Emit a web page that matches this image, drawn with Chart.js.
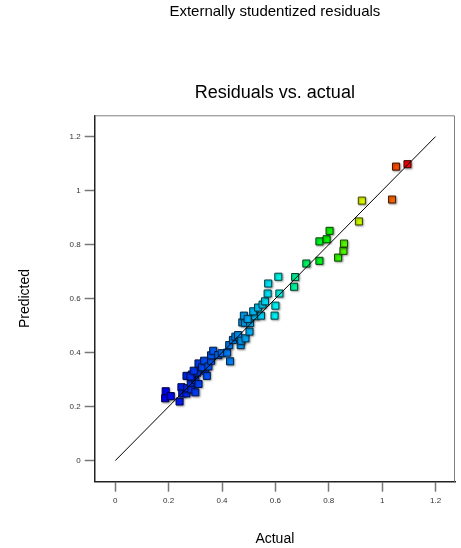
<!DOCTYPE html>
<html>
<head>
<meta charset="utf-8">
<script src="https://cdn.jsdelivr.net/npm/chart.js@4/dist/chart.umd.min.js"></script>
<style>
  html, body { margin: 0; padding: 0; background: #fff; }
  #wrap { width: 461px; height: 548px; }
</style>
</head>
<body>
<div id="wrap"><canvas id="myCanvas"></canvas></div>
<script>
// actual vs predicted values
const actual = [0.189, 0.187, 0.208, 0.241, 0.248, 0.251, 0.267, 0.270, 0.285, 0.300, 0.283, 0.300, 0.312, 0.267, 0.287, 0.282, 0.308, 0.294, 0.337, 0.343, 0.312, 0.325, 0.333, 0.349, 0.359, 0.359, 0.367, 0.386, 0.399, 0.419, 0.430, 0.427, 0.441, 0.450, 0.460, 0.470, 0.472, 0.488, 0.503, 0.476, 0.486, 0.505, 0.482, 0.496, 0.524, 0.546, 0.517, 0.535, 0.552, 0.561, 0.597, 0.600, 0.571, 0.615, 0.573, 0.611, 0.670, 0.674, 0.716, 0.765, 0.835, 0.855, 0.857, 0.765, 0.792, 0.803, 0.913, 0.924, 1.037, 1.052, 1.095];
const predicted = [0.257, 0.231, 0.239, 0.219, 0.272, 0.249, 0.249, 0.268, 0.264, 0.253, 0.289, 0.299, 0.284, 0.314, 0.319, 0.312, 0.326, 0.333, 0.333, 0.314, 0.360, 0.346, 0.370, 0.349, 0.370, 0.390, 0.407, 0.391, 0.398, 0.400, 0.368, 0.428, 0.447, 0.459, 0.465, 0.428, 0.444, 0.453, 0.478, 0.512, 0.511, 0.510, 0.537, 0.525, 0.535, 0.537, 0.553, 0.567, 0.578, 0.590, 0.537, 0.574, 0.619, 0.619, 0.656, 0.681, 0.644, 0.680, 0.730, 0.740, 0.752, 0.777, 0.804, 0.812, 0.820, 0.851, 0.886, 0.963, 0.967, 1.089, 1.098];

// 45 degree reference line
const lineActual = [0, 1.2];
const linePredicted = [0, 1.2];

const xTickValues = [0, 0.2, 0.4, 0.6, 0.8, 1, 1.2];
const yTickValues = [0, 0.2, 0.4, 0.6, 0.8, 1, 1.2];

// colour ramp (actual value -> hue), blue to red
const hueStops = [[0.19, 240], [0.45, 206], [0.6, 180], [0.72, 143], [0.79, 120], [0.85, 103], [0.92, 68], [1.045, 21], [1.095, 0]];

function hueFor(v) {
    if (v <= hueStops[0][0]) return hueStops[0][1];
    for (let i = 1; i < hueStops.length; i++) {
        const [x1, h1] = hueStops[i];
        const [x0, h0] = hueStops[i - 1];
        if (v <= x1) return h0 + (h1 - h0) * (v - x0) / (x1 - x0);
    }
    return hueStops[hueStops.length - 1][1];
}

const points = actual.map((a, i) => ({ x: a, y: predicted[i] }));
const fills = actual.map(a => `hsl(${hueFor(a)}, 100%, 48%)`);
const borders = actual.map(a => `hsl(${hueFor(a)}, 100%, 14%)`);

const boxPlugin = {
    id: "box",
    afterDraw(chart) {
        const { ctx, chartArea: a } = chart;
        ctx.save();
        ctx.strokeStyle = "#808080";
        ctx.lineWidth = 1;
        ctx.beginPath();
        ctx.moveTo(a.left, a.top + 0.5);
        ctx.lineTo(a.right - 0.5, a.top + 0.5);
        ctx.lineTo(a.right - 0.5, a.bottom);
        ctx.stroke();
        ctx.restore();
    },
};

const shadowPlugin = {
    id: "shadow",
    beforeDatasetDraw(chart, args) {
        if (args.index !== 1) return;
        const ctx = chart.ctx;
        ctx.save();
        ctx.shadowColor = "rgba(0,0,0,0.35)";
        ctx.shadowBlur = 2;
        ctx.shadowOffsetX = 1;
        ctx.shadowOffsetY = 1;
    },
    afterDatasetDraw(chart, args) {
        if (args.index !== 1) return;
        chart.ctx.restore();
    },
};

const tickFont = { family: "Arial, 'Liberation Sans', sans-serif", size: 8 };
const fixTicks = vals => scale => { scale.ticks = vals.map(v => ({ value: v })); };
const fmt = v => String(Math.round(v * 10) / 10);

new Chart(document.getElementById("myCanvas"), {
    type: "scatter",
    data: {
        datasets: [
            {
                type: "line",
                data: lineActual.map((a, i) => ({ x: a, y: linePredicted[i] })),
                borderColor: "#000",
                borderWidth: 1,
                pointRadius: 0,
                fill: false,
            },
            {
                data: points,
                pointStyle: "rect",
                pointRadius: 5,
                pointBorderWidth: 1,
                pointBackgroundColor: fills,
                pointBorderColor: borders,
            },
        ],
    },
    options: {
        responsive: true,
        maintainAspectRatio: false,
        animation: false,
        layout: { padding: { left: 0, right: 0.7, top: 0, bottom: 0 } },
        plugins: {
            legend: false,
            tooltip: false,
            title: {
                display: true,
                fullSize: false,
                text: "Externally studentized residuals",
                color: "#000",
                font: { family: "Arial, 'Liberation Sans', sans-serif", size: 15, weight: "normal", lineHeight: 1.2 },
                padding: { top: 3, bottom: 0 },
            },
            subtitle: {
                display: true,
                fullSize: false,
                text: "Residuals vs. actual",
                color: "#000",
                font: { family: "Arial, 'Liberation Sans', sans-serif", size: 18, weight: "normal", lineHeight: 1.2 },
                padding: { top: 61.2, bottom: 11.5 },
            },
        },
        scales: {
            x: {
                type: "linear",
                min: -0.077,
                max: 1.273,
                afterBuildTicks: fixTicks(xTickValues),
                afterFit: s => { s.height = 66.3; },
                grid: { drawOnChartArea: false, tickLength: 10, tickColor: "#777", tickWidth: 1.5 },
                border: { color: "#222", width: 1.5 },
                ticks: { font: tickFont, color: "#333", padding: 4, maxRotation: 0, callback: fmt },
                title: {
                    display: true,
                    text: "Actual",
                    color: "#000",
                    font: { family: "Arial, 'Liberation Sans', sans-serif", size: 14, lineHeight: 1.2 },
                    padding: { top: 0, bottom: 0 },
                },
            },
            y: {
                type: "linear",
                min: -0.078,
                max: 1.279,
                afterBuildTicks: fixTicks(yTickValues),
                afterFit: s => { s.width = 94.7; },
                grid: { drawOnChartArea: false, tickLength: 10, tickColor: "#777", tickWidth: 1.5 },
                border: { color: "#222", width: 1.5 },
                ticks: { font: tickFont, color: "#333", padding: 4, callback: fmt },
                title: {
                    display: true,
                    text: "Predicted",
                    color: "#000",
                    font: { family: "Arial, 'Liberation Sans', sans-serif", size: 14, lineHeight: 1.2 },
                    padding: { top: 17, bottom: 0 },
                },
            },
        },
    },
    plugins: [boxPlugin, shadowPlugin],
});
</script>
</body>
</html>
